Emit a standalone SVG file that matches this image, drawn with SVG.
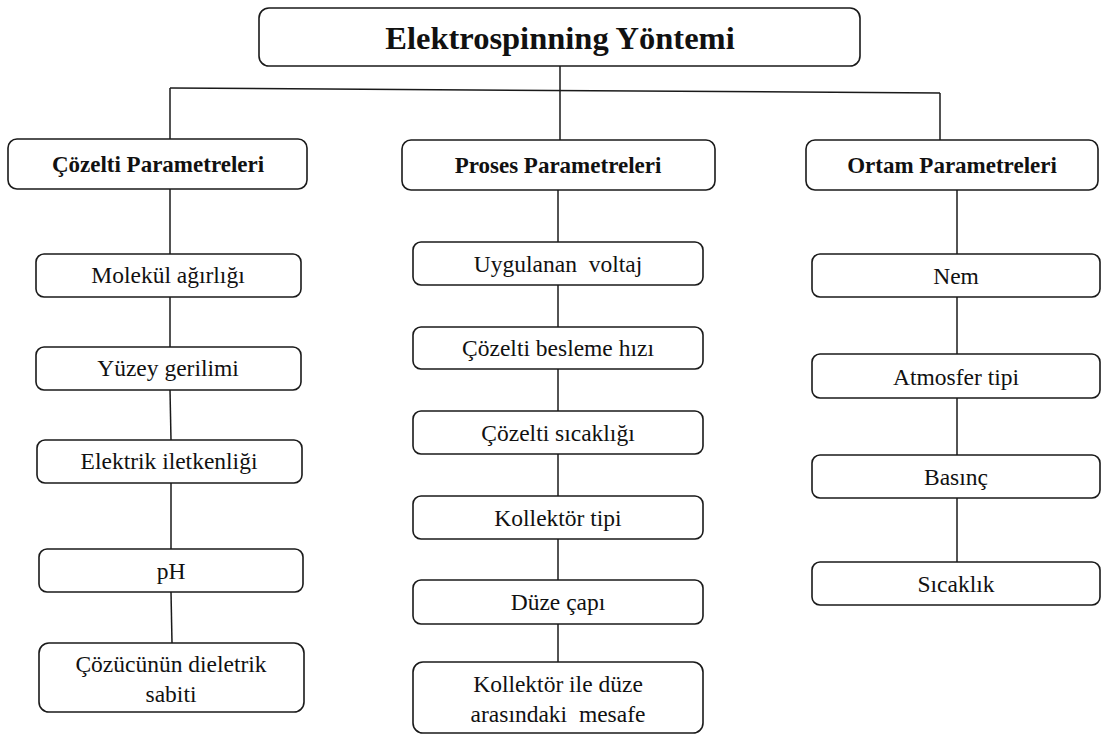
<svg xmlns="http://www.w3.org/2000/svg" width="1105" height="735" viewBox="0 0 1105 735">
  <style>
    .box { fill: #ffffff; stroke: #1a1a1a; stroke-width: 1.6; }
    .wire { fill: none; stroke: #1a1a1a; stroke-width: 1.5; }
    text { font-family: 'Liberation Serif', 'Times New Roman', Times, serif; fill: #111; text-anchor: middle; }
    .title { font-size: 32.5px; font-weight: bold; }
    .head { font-size: 23px; font-weight: bold; }
    .item { font-size: 23.5px; }
  </style>
  <rect width="1105" height="735" fill="#ffffff"/>

  <!-- connectors -->
  <g id="connectors" class="wire">
    <line x1="560" y1="66" x2="560" y2="140"/>
    <line x1="170" y1="88" x2="940" y2="93"/>
    <line x1="170" y1="88" x2="170" y2="139"/>
    <line x1="940" y1="93" x2="940" y2="140"/>
    <!-- solution column -->
    <line x1="170" y1="189" x2="170" y2="254"/>
    <line x1="170" y1="297" x2="170" y2="347"/>
    <line x1="170" y1="390" x2="171" y2="440"/>
    <line x1="171" y1="483" x2="171" y2="549"/>
    <line x1="171" y1="592" x2="172" y2="643"/>
    <!-- process column -->
    <line x1="558" y1="190" x2="558" y2="242"/>
    <line x1="558" y1="285" x2="558" y2="327"/>
    <line x1="558" y1="369" x2="558" y2="411"/>
    <line x1="558" y1="454" x2="558" y2="496"/>
    <line x1="558" y1="539" x2="558" y2="580"/>
    <line x1="558" y1="624" x2="558" y2="662"/>
    <!-- ambient column -->
    <line x1="957" y1="190" x2="957" y2="254"/>
    <line x1="957" y1="297" x2="957" y2="354"/>
    <line x1="957" y1="398" x2="957" y2="455"/>
    <line x1="957" y1="498" x2="957" y2="562"/>
  </g>

  <!-- root -->
  <g id="root">
    <rect class="box" x="259" y="8" width="601" height="58" rx="10"/>
    <text class="title" x="560" y="49">Elektrospinning Yöntemi</text>
  </g>

  <!-- category headers -->
  <g id="cozelti-parametreleri">
    <rect class="box" x="8" y="139" width="299" height="50" rx="9"/>
    <text class="head" x="158" y="172">Çözelti Parametreleri</text>
  </g>
  <g id="proses-parametreleri">
    <rect class="box" x="402" y="140" width="313" height="50" rx="9"/>
    <text class="head" x="558" y="173">Proses Parametreleri</text>
  </g>
  <g id="ortam-parametreleri">
    <rect class="box" x="806" y="140" width="292" height="50" rx="9"/>
    <text class="head" x="952" y="173">Ortam Parametreleri</text>
  </g>

  <!-- solution parameters -->
  <g id="molekul-agirligi">
    <rect class="box" x="36" y="254" width="265" height="43" rx="8"/>
    <text class="item" x="168" y="283">Molekül ağırlığı</text>
  </g>
  <g id="yuzey-gerilimi">
    <rect class="box" x="36" y="347" width="265" height="43" rx="8"/>
    <text class="item" x="168" y="376">Yüzey gerilimi</text>
  </g>
  <g id="elektrik-iletkenligi">
    <rect class="box" x="37" y="440" width="265" height="43" rx="8"/>
    <text class="item" x="169" y="469">Elektrik iletkenliği</text>
  </g>
  <g id="ph">
    <rect class="box" x="39" y="549" width="264" height="43" rx="8"/>
    <text class="item" x="171" y="579">pH</text>
  </g>
  <g id="dielektrik-sabiti">
    <rect class="box" x="39" y="643" width="265" height="69" rx="10"/>
    <text class="item" x="171" y="672">Çözücünün dieletrik</text>
    <text class="item" x="171" y="702">sabiti</text>
  </g>

  <!-- process parameters -->
  <g id="uygulanan-voltaj">
    <rect class="box" x="413" y="242" width="290" height="43" rx="8"/>
    <text class="item" x="558" y="272" xml:space="preserve">Uygulanan  voltaj</text>
  </g>
  <g id="besleme-hizi">
    <rect class="box" x="413" y="327" width="290" height="42" rx="8"/>
    <text class="item" x="558" y="356">Çözelti besleme hızı</text>
  </g>
  <g id="cozelti-sicakligi">
    <rect class="box" x="413" y="411" width="290" height="43" rx="8"/>
    <text class="item" x="558" y="441">Çözelti sıcaklığı</text>
  </g>
  <g id="kollektor-tipi">
    <rect class="box" x="413" y="496" width="290" height="43" rx="8"/>
    <text class="item" x="558" y="526">Kollektör tipi</text>
  </g>
  <g id="duze-capi">
    <rect class="box" x="413" y="580" width="290" height="44" rx="8"/>
    <text class="item" x="558" y="610">Düze çapı</text>
  </g>
  <g id="kollektor-duze-mesafe">
    <rect class="box" x="413" y="662" width="290" height="71" rx="10"/>
    <text class="item" x="558" y="692">Kollektör ile düze</text>
    <text class="item" x="558" y="722" xml:space="preserve">arasındaki  mesafe</text>
  </g>

  <!-- ambient parameters -->
  <g id="nem">
    <rect class="box" x="812" y="254" width="288" height="43" rx="8"/>
    <text class="item" x="956" y="284">Nem</text>
  </g>
  <g id="atmosfer-tipi">
    <rect class="box" x="812" y="354" width="288" height="44" rx="8"/>
    <text class="item" x="956" y="385">Atmosfer tipi</text>
  </g>
  <g id="basinc">
    <rect class="box" x="812" y="455" width="288" height="43" rx="8"/>
    <text class="item" x="956" y="485">Basınç</text>
  </g>
  <g id="sicaklik">
    <rect class="box" x="812" y="562" width="288" height="43" rx="8"/>
    <text class="item" x="956" y="592">Sıcaklık</text>
  </g>
</svg>
